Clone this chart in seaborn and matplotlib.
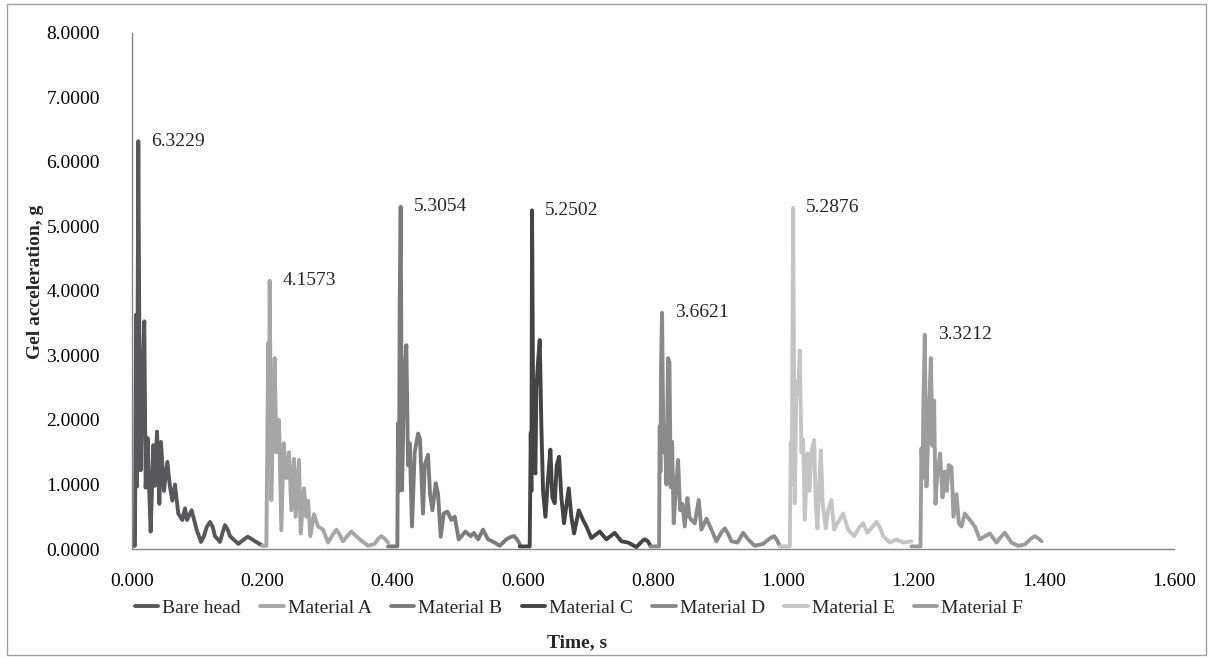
import pandas as pd
from matplotlib import pyplot as plt
from matplotlib.patches import Rectangle
import numpy as np
import seaborn as sns

# values (time in s, gel acceleration in g)
bare_t = [0.0000, 0.0046, 0.0061, 0.0077, 0.0097, 0.0118, 0.0133, 0.0159, 0.0189, 0.0210,
          0.0241, 0.0261, 0.0287, 0.0328, 0.0353, 0.0384, 0.0420, 0.0445, 0.0491, 0.0543,
          0.0583, 0.0619, 0.0660, 0.0711, 0.0773, 0.0814, 0.0845, 0.0916, 0.0993, 0.1060,
          0.1105, 0.1147, 0.1198, 0.1240, 0.1274, 0.1351, 0.1390, 0.1428, 0.1470, 0.1505,
          0.1633, 0.1720, 0.1776, 0.1830, 0.1889, 0.1991]
bare_g = [0.05, 0.05, 3.63, 0.97, 6.3229, 2.40, 1.22, 2.60, 3.53, 0.95,
          1.72, 1.00, 0.27, 1.61, 0.98, 1.82, 0.70, 1.66, 0.90, 1.35,
          0.97, 0.75, 1.00, 0.55, 0.45, 0.63, 0.45, 0.60, 0.30, 0.11,
          0.20, 0.34, 0.42, 0.34, 0.20, 0.11, 0.25, 0.37, 0.30, 0.20,
          0.08, 0.15, 0.19, 0.16, 0.12, 0.06]

matA_t = [0.1996, 0.2063, 0.2078, 0.2093, 0.2104, 0.2114, 0.2139, 0.2160, 0.2191, 0.2216,
          0.2242, 0.2257, 0.2293, 0.2329, 0.2370, 0.2411, 0.2447, 0.2488, 0.2513, 0.2564,
          0.2590, 0.2641, 0.2677, 0.2703, 0.2738, 0.2795, 0.2856, 0.2933, 0.3010, 0.3080,
          0.3138, 0.3190, 0.3240, 0.3320, 0.3368, 0.3420, 0.3496, 0.3624, 0.3726, 0.3790,
          0.3829, 0.3880, 0.3931]
matA_g = [0.05, 0.05, 1.74, 3.20, 1.40, 4.1573, 0.76, 1.74, 2.96, 1.50,
          1.74, 2.00, 0.29, 1.64, 1.10, 1.50, 0.60, 1.40, 0.50, 1.38,
          0.24, 0.94, 0.50, 0.75, 0.20, 0.54, 0.35, 0.30, 0.10, 0.22,
          0.30, 0.22, 0.12, 0.22, 0.27, 0.22, 0.15, 0.05, 0.08, 0.17,
          0.20, 0.16, 0.10]

matB_t = [0.3931, 0.4074, 0.4084, 0.4100, 0.4110, 0.4125, 0.4146, 0.4177, 0.4212, 0.4238,
          0.4264, 0.4299, 0.4340, 0.4392, 0.4422, 0.4468, 0.4494, 0.4545, 0.4576, 0.4612,
          0.4663, 0.4699, 0.4740, 0.4786, 0.4842, 0.4903, 0.4955, 0.5016, 0.5118, 0.5200,
          0.5251, 0.5313, 0.5390, 0.5466, 0.5569, 0.5646, 0.5748, 0.5820, 0.5866, 0.5910,
          0.5953]
matB_g = [0.04, 0.04, 1.95, 0.90, 3.80, 5.3054, 0.91, 2.60, 3.16, 1.30,
          1.64, 0.35, 1.50, 1.79, 1.70, 0.55, 1.30, 1.46, 0.85, 0.60,
          1.02, 0.85, 0.19, 0.55, 0.58, 0.45, 0.50, 0.15, 0.27, 0.20,
          0.25, 0.15, 0.30, 0.15, 0.10, 0.05, 0.15, 0.19, 0.20, 0.15,
          0.08]

matC_t = [0.5953, 0.6106, 0.6122, 0.6132, 0.6142, 0.6162, 0.6193, 0.6209, 0.6234, 0.6260,
          0.6285, 0.6311, 0.6347, 0.6388, 0.6423, 0.6454, 0.6490, 0.6521, 0.6557, 0.6592,
          0.6633, 0.6705, 0.6746, 0.6787, 0.6859, 0.6925, 0.6976, 0.7053, 0.7181, 0.7283,
          0.7411, 0.7514, 0.7616, 0.7744, 0.7830, 0.7872, 0.7920, 0.7959]
matC_g = [0.04, 0.04, 1.80, 0.90, 5.2502, 1.60, 1.17, 2.50, 2.90, 3.24,
          1.90, 0.90, 0.50, 1.10, 1.54, 0.80, 0.71, 1.30, 1.43, 0.80,
          0.40, 0.94, 0.50, 0.24, 0.60, 0.45, 0.35, 0.17, 0.27, 0.15,
          0.25, 0.12, 0.10, 0.03, 0.12, 0.15, 0.12, 0.05]

matD_t = [0.7959, 0.8092, 0.8102, 0.8113, 0.8123, 0.8138, 0.8159, 0.8179, 0.8205, 0.8230,
          0.8251, 0.8271, 0.8292, 0.8317, 0.8348, 0.8384, 0.8415, 0.8450, 0.8486, 0.8527,
          0.8558, 0.8588, 0.8640, 0.8701, 0.8742, 0.8819, 0.8896, 0.8972, 0.9050, 0.9100,
          0.9150, 0.9203, 0.9295, 0.9382, 0.9459, 0.9561, 0.9689, 0.9800, 0.9858, 0.9900,
          0.9945]
matD_g = [0.04, 0.04, 1.90, 1.20, 2.90, 3.6621, 1.50, 1.90, 1.00, 2.96,
          2.90, 0.96, 1.66, 0.40, 0.90, 1.38, 0.60, 0.70, 0.35, 0.79,
          0.50, 0.45, 0.40, 0.76, 0.30, 0.47, 0.30, 0.12, 0.26, 0.32,
          0.24, 0.12, 0.10, 0.25, 0.15, 0.05, 0.08, 0.17, 0.20, 0.14,
          0.05]

matE_t = [0.9945, 1.0099, 1.0114, 1.0129, 1.0139, 1.0150, 1.0175, 1.0201, 1.0226, 1.0252,
          1.0278, 1.0303, 1.0329, 1.0370, 1.0401, 1.0431, 1.0472, 1.0498, 1.0523, 1.0575,
          1.0605, 1.0651, 1.0687, 1.0738, 1.0779, 1.0830, 1.0917, 1.0994, 1.1086, 1.1170,
          1.1225, 1.1291, 1.1380, 1.1429, 1.1480, 1.1532, 1.1634, 1.1736, 1.1839, 1.1967]
matE_g = [0.04, 0.04, 1.65, 1.00, 3.00, 5.2876, 0.71, 2.60, 2.40, 3.08,
          1.50, 1.70, 0.45, 1.48, 0.90, 1.50, 1.69, 0.70, 0.32, 1.53,
          0.70, 0.32, 0.60, 0.76, 0.30, 0.40, 0.55, 0.30, 0.20, 0.34,
          0.40, 0.25, 0.36, 0.42, 0.34, 0.20, 0.10, 0.15, 0.10, 0.12]

matF_t = [1.1967, 1.2105, 1.2120, 1.2136, 1.2151, 1.2171, 1.2197, 1.2233, 1.2264, 1.2289,
          1.2315, 1.2335, 1.2366, 1.2407, 1.2443, 1.2479, 1.2509, 1.2540, 1.2581, 1.2612,
          1.2658, 1.2694, 1.2735, 1.2786, 1.2863, 1.2939, 1.3016, 1.3100, 1.3170, 1.3272,
          1.3350, 1.3400, 1.3502, 1.3605, 1.3707, 1.3800, 1.3861, 1.3920, 1.3963]
matF_g = [0.04, 0.04, 1.56, 1.10, 2.30, 3.3212, 0.97, 2.00, 2.96, 1.60,
          2.30, 0.70, 1.20, 1.48, 0.80, 1.20, 0.90, 1.30, 1.27, 0.50,
          0.85, 0.40, 0.35, 0.55, 0.45, 0.35, 0.15, 0.20, 0.24, 0.10,
          0.20, 0.25, 0.10, 0.05, 0.07, 0.16, 0.20, 0.16, 0.12]

series_names = ["Bare head", "Material A", "Material B", "Material C",
                "Material D", "Material E", "Material F"]
series_colors = ["#58585a", "#a6a6a6", "#7b7b7b", "#444444",
                 "#8a8a8a", "#c4c4c4", "#9c9c9c"]
peak_labels = ["6.3229", "4.1573", "5.3054", "5.2502", "3.6621", "5.2876", "3.3212"]

if __name__ == "__main__":
    all_t = [bare_t, matA_t, matB_t, matC_t, matD_t, matE_t, matF_t]
    all_g = [bare_g, matA_g, matB_g, matC_g, matD_g, matE_g, matF_g]
    frames = []
    for name, t, g in zip(series_names, all_t, all_g):
        frames.append(pd.DataFrame({"Time": t, "Accel": g, "Series": name}))
    df = pd.concat(frames, ignore_index=True)

    sns.set_style("white")
    plt.rcParams['font.family'] = ['Liberation Serif', 'DejaVu Serif']

    fig = plt.figure(figsize=(12.13, 6.59), dpi=100)
    ax = fig.add_axes([0.1088, 0.1669, 0.8592, 0.7831])

    sns.lineplot(data=df, x="Time", y="Accel", hue="Series", hue_order=series_names,
                 palette=series_colors, sort=False, estimator=None, linewidth=2.8,
                 solid_joinstyle="round", solid_capstyle="round", ax=ax)

    # peak value labels
    for t, g, lab in zip(all_t, all_g, peak_labels):
        i = int(np.argmax(g))
        ax.text(t[i] + 0.02, g[i], lab, ha="left", va="center", fontsize=14)

    ax.set_xlim(0, 1.6)
    ax.set_ylim(0, 8)
    ax.set_xticks(np.arange(0, 1.601, 0.2))
    ax.set_yticks(np.arange(0, 8.01, 1))
    ax.set_xticklabels([f"{v:.3f}" for v in np.arange(0, 1.601, 0.2)])
    ax.set_yticklabels([f"{v:.4f}" for v in np.arange(0, 8.01, 1)])
    ax.tick_params(axis="both", labelsize=14, colors="#868686", labelcolor="black",
                   length=5, width=1, direction="out")
    ax.tick_params(axis="y", pad=18)
    ax.tick_params(axis="x", pad=12)
    for side in ["top", "right"]:
        ax.spines[side].set_visible(False)
    for side in ["left", "bottom"]:
        ax.spines[side].set_color("#868686")
        ax.spines[side].set_linewidth(1)

    ax.set_xlabel("Time, s", fontsize=14, fontweight="bold")
    ax.set_ylabel("Gel acceleration, g", fontsize=14, fontweight="bold")
    ax.xaxis.set_label_coords((577 - 132) / 1042, -0.165)
    ax.yaxis.set_label_coords((44 - 132) / 1042, 0.517)

    handles, labels = ax.get_legend_handles_labels()
    ax.legend(handles, labels, loc="center", bbox_to_anchor=((579 - 132) / 1042, -0.114),
              ncol=7, frameon=False, fontsize=14, handlelength=1.2, handletextpad=0.2,
              columnspacing=1.0)

    # chart area border
    fig.patches.append(Rectangle((7 / 1213, 4 / 659), 1199 / 1213, 651 / 659,
                                 transform=fig.transFigure, fill=False,
                                 edgecolor="#a0a0a0", linewidth=1))

    fig.savefig("out.png", dpi=100)
